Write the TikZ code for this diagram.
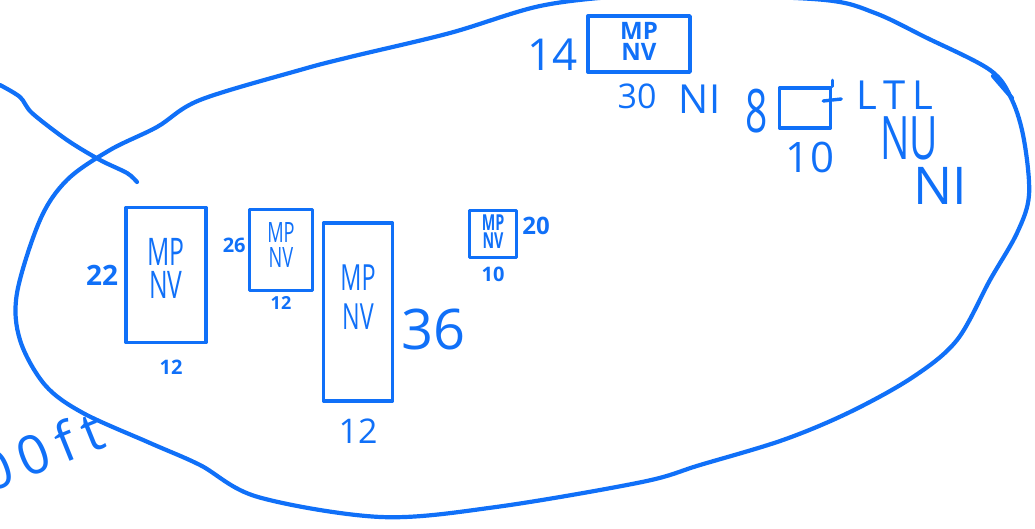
\documentclass[tikz,border=0pt]{standalone}
\usepackage{fontspec}
\setmainfont{Open Sans}
\newfontfamily\handcond{Open Sans}[FakeStretch=0.65]
\newfontfamily\handwide{Open Sans}[LetterSpace=18]
\usetikzlibrary{positioning}
\definecolor{inkblue}{RGB}{16,112,248}
\newcommand{\hand}[2]{\fontsize{#1}{#2}\selectfont}
\tikzset{
    sketch/.style = {draw=inkblue, line width=4.2pt, line cap=round, line join=round},
    sketch-box/.style = {draw=inkblue, line width=3.4pt, rectangle, align=center, text=inkblue, inner sep=0pt, line join=round},
    sketch-label/.style = {text=inkblue, inner sep=0pt},
}

\begin{document}
\begin{tikzpicture}[x=1pt, y=-1pt]
\useasboundingbox (0,0) rectangle (1035,528);
% the outline and the stroke across it
\draw[sketch] plot[smooth cycle, tension=0.55] coordinates {(200,100) (300,70) (350,57) (450,33) (540,6) (625,-4) (700,-5) (825,0) (875,13) (925,37) (990,70) (1012,100) (1024,140) (1029,195) (1017,233) (990,280) (957,340) (913,377) (850,412) (783,440) (700,465) (642,482) (496,507) (381,517) (258,497) (200,465) (150,443) (83,413) (45,385) (20,340) (17,293) (40,220) (67,180) (110,150) (157,127)};
\draw[sketch] (993,76) -- (1012,98);
\draw[sketch] plot[smooth] coordinates {(0,85) (20,97) (32,113) (67,140) (100,160) (127,173) (137,182)};

% boxes
\node[sketch-box, minimum width=80pt, minimum height=135pt, text depth=14pt, font=\handcond\hand{38}{33}] (boxA) at (166,275) {MP\\NV};
\node[sketch-box, minimum width=63pt, minimum height=81pt, text depth=10pt, font=\handcond\hand{28}{25}] (boxB) at (281,250) {MP\\NV};
\node[sketch-box, minimum width=69pt, minimum height=178pt, text depth=30pt, font=\handcond\hand{36}{39}] (boxC) at (358,312) {MP\\NV};
\node[sketch-box, minimum width=47pt, minimum height=47pt, text depth=4pt, font=\handcond\bfseries\hand{22}{18}] (boxD) at (493,234) {MP\\NV};
\node[sketch-box, minimum width=102pt, minimum height=56pt, text depth=6pt, font=\bfseries\hand{24}{21}] (boxE) at (639,44) {MP\\NV};
\node[sketch-box, minimum width=51pt, minimum height=40pt] (boxF) at (805,108) {};
\draw[sketch, line width=3.4pt] (boxF.north east) -- ++(0,-6);
\draw[sketch, line width=3.4pt] (boxF.east) ++(-9,-7) -- ++(18,-2);

% sizes
\node[sketch-label, font=\bfseries\hand{28}{28}, left=6pt of boxA] (lenA) {22};
\node[sketch-label, font=\bfseries\hand{20}{20}, below=16pt of boxA, xshift=5pt] (widA) {12};
\node[sketch-label, font=\bfseries\hand{20}{20}, left=2pt of boxB, yshift=5pt] (lenB) {26};
\node[sketch-label, font=\bfseries\hand{18}{18}, below=4pt of boxB] (widB) {12};
\node[sketch-label, font=\hand{56}{56}, right=7pt of boxC, yshift=-17pt] (lenC) {36};
\node[sketch-label, font=\hand{34}{34}, below=16pt of boxC] (widC) {12};
\node[sketch-label, font=\bfseries\hand{24}{24}, right=4pt of boxD, yshift=8pt] (lenD) {20};
\node[sketch-label, font=\bfseries\hand{20}{20}, below=8pt of boxD] (widD) {10};
\node[sketch-label, font=\hand{44}{44}, left=8pt of boxE, yshift=-11pt] (lenE) {14};
\node[sketch-label, font=\hand{34}{34}, below=10pt of boxE, xshift=-2pt] (widE) {30};
\node[sketch-label, font=\hand{40}{40}, right=22pt of widE, yshift=-3pt] (noteE) {NI};
\node[sketch-label, font=\handcond\hand{60}{60}, right=25pt of noteE, yshift=-12pt] (count) {8};
\node[sketch-label, font=\hand{42}{42}, below=12pt of boxF, xshift=5pt] (widF) {10};
\node[sketch-label, font=\handwide\hand{40}{40}, right=24pt of boxF, yshift=13pt] (tagL) {LTL};
\node[sketch-label, font=\handcond\hand{60}{60}, below=7pt of tagL, xshift=14pt] (tagU) {NU};
\node[sketch-label, font=\hand{52}{52}, below=7pt of tagU, xshift=31pt] (tagI) {NI};
\node[sketch-label, font=\handwide\hand{54}{54}, rotate=22] (dist) at (41,451) {00ft};
\end{tikzpicture}
\end{document}
